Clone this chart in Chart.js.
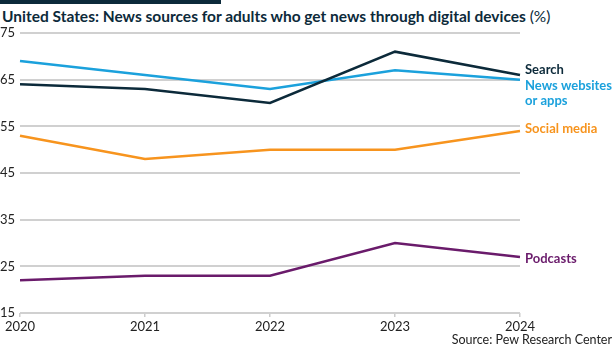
<!DOCTYPE html>
<html>
<head>
<meta charset="utf-8">
<script src="https://cdn.jsdelivr.net/npm/chart.js@4.4.1/dist/chart.umd.min.js"></script>
<style>
  body { margin: 0; background: #fff; }
  #wrap { position: relative; width: 615px; height: 350px; font-family: Lato, sans-serif; }
  #bar { position: absolute; left: 0; top: 0; width: 221px; height: 4px; background: #0c2a3a; }
  #title { position: absolute; left: 2px; top: 7px; font-size: 15.5px; font-weight: bold; color: #0c2a3a; white-space: nowrap; }
  #title span { font-weight: normal; }
  #source { position: absolute; right: 3px; top: 332px; font-size: 12.5px; color: #222; }
  canvas { position: absolute; left: 0; top: 0; }
</style>
</head>
<body>
<div id="wrap">
  <div id="bar"></div>
  <div id="title">United States: News sources for adults who get news through digital devices <span>(%)</span></div>
  <canvas id="lineChart" width="615" height="350"></canvas>
  <div id="source">Source: Pew Research Center</div>
</div>
<script>
var years = ['2020', '2021', '2022', '2023', '2024'];
var search = [64, 63, 60, 71, 66];
var newsSites = [69, 66, 63, 67, 65];
var socialMedia = [53, 48, 50, 50, 54];
var podcasts = [22, 23, 23, 30, 27];
var seriesNames = [['Search'], ['News websites', 'or apps'], ['Social media'], ['Podcasts']];

var colours = ['#0c2a3a', '#1ba1dc', '#f7941e', '#6a1b6b'];
var labelShift = [-5, 6, -2, 2];

var endLabels = {
  id: 'endLabels',
  afterDatasetsDraw: function(chart) {
    var ctx = chart.ctx;
    ctx.save();
    ctx.font = 'bold 13px Lato, sans-serif';
    ctx.textBaseline = 'middle';
    ctx.textAlign = 'left';
    chart.data.datasets.forEach(function(ds, i) {
      var pts = chart.getDatasetMeta(i).data;
      var p = pts[pts.length - 1];
      var lines = seriesNames[i];
      ctx.fillStyle = colours[i];
      for (var k = 0; k < lines.length; k++) {
        ctx.fillText(lines[k], p.x + 5, p.y + labelShift[i] + k * 15);
      }
    });
    ctx.restore();
  }
};

var datasets = [search, newsSites, socialMedia, podcasts].map(function(d, i) {
  return {
    label: seriesNames[i].join(' '),
    data: d,
    borderColor: colours[i],
    backgroundColor: colours[i],
    borderWidth: 2.5,
    pointRadius: 0,
    tension: 0
  };
});

const lineChart = new Chart(document.getElementById('lineChart'), {
  type: 'line',
  data: { labels: years, datasets: datasets },
  options: {
    responsive: false,
    animation: false,
    layout: { padding: { top: 33, right: 95, left: 0, bottom: 0 } },
    plugins: { legend: { display: false }, tooltip: { enabled: false } },
    scales: {
      x: {
        offset: false,
        border: { display: false },
        grid: { drawOnChartArea: false, tickLength: 4, color: '#cccccc', lineWidth: 1.5 },
        ticks: { color: '#222', padding: 2, font: { family: 'Lato', size: 13 }, maxRotation: 0 },
        afterFit: function(scale) { scale.height = 37; }
      },
      y: {
        min: 15,
        max: 75,
        border: { display: false },
        grid: { color: '#d0d0d0', lineWidth: 2, drawTicks: false },
        ticks: { stepSize: 10, color: '#222', padding: 4, crossAlign: 'far', font: { family: 'Lato', size: 13 } },
        afterFit: function(scale) { scale.width = 20; }
      }
    }
  },
  plugins: [endLabels]
});
</script>
</body>
</html>
